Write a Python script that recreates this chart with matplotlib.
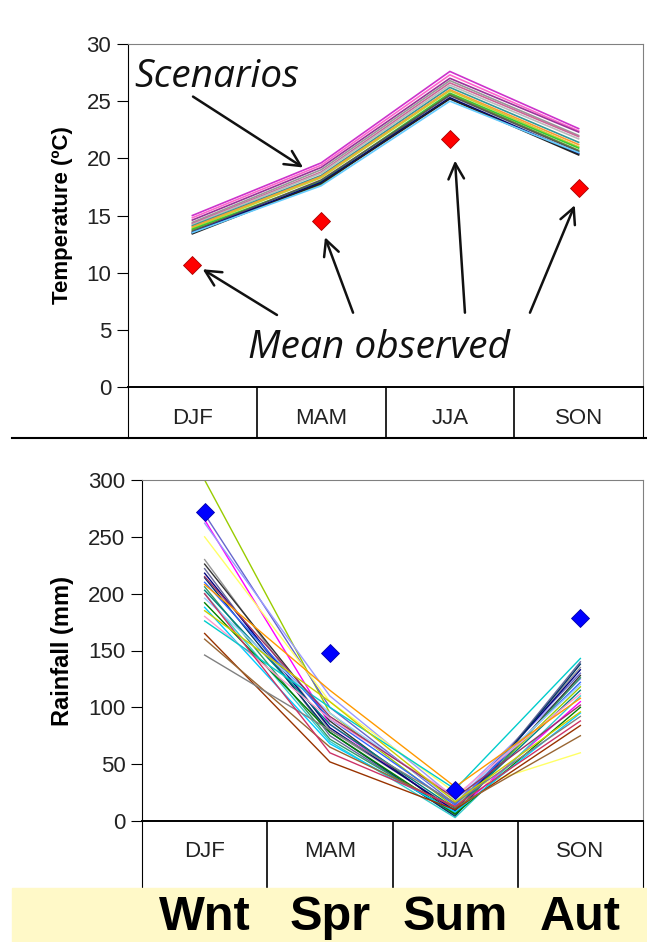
import numpy as np
import matplotlib.pyplot as plt
from matplotlib.lines import Line2D
from matplotlib.patches import Rectangle

plt.switch_backend("Agg")

seasons = ["DJF", "MAM", "JJA", "SON"]
season_words = ["Wnt", "Spr", "Sum", "Aut"]

# temperature scenarios (ºC) per season: DJF, MAM, JJA, SON
temp_scen = [
    [15.0, 19.6, 27.6, 22.6],
    [14.8, 19.4, 27.3, 22.4],
    [14.6, 19.2, 27.0, 22.3],
    [14.4, 19.0, 26.8, 22.0],
    [14.3, 18.8, 26.6, 21.9],
    [14.2, 18.7, 26.4, 21.7],
    [14.1, 18.5, 26.2, 21.4],
    [14.0, 18.4, 26.0, 21.2],
    [13.9, 18.3, 25.9, 21.0],
    [13.8, 18.0, 25.7, 20.9],
    [13.7, 17.7, 25.6, 20.7],
    [13.6, 18.1, 25.5, 20.6],
    [13.5, 17.9, 25.3, 20.4],
    [13.4, 17.8, 25.2, 20.3],
    [13.5, 17.6, 25.0, 20.5],
]
temp_colors = ["#CC33CC", "#FF66CC", "#993399", "#999999", "#CC6699",
               "#BBBBBB", "#339999", "#FF9933", "#CCCC33", "#33CC33",
               "#669933", "#555555", "#000080", "#222222", "#66CCFF"]
temp_obs = [10.7, 14.5, 21.7, 17.4]

# rainfall scenarios (mm)
rain_scen = [
    [300, 95, 12, 118],
    [270, 100, 15, 130],
    [265, 85, 8, 105],
    [262, 110, 20, 125],
    [250, 105, 25, 60],
    [230, 80, 10, 135],
    [226, 88, 6, 128],
    [222, 75, 5, 140],
    [218, 82, 9, 133],
    [214, 78, 4, 138],
    [210, 90, 14, 122],
    [206, 72, 7, 126],
    [203, 85, 11, 115],
    [200, 70, 3, 110],
    [196, 95, 18, 120],
    [192, 78, 6, 100],
    [188, 68, 8, 95],
    [180, 90, 22, 112],
    [176, 100, 28, 143],
    [165, 52, 10, 84],
    [160, 65, 12, 75],
    [146, 80, 16, 92],
    [215, 92, 20, 102],
    [208, 115, 30, 108],
    [200, 60, 13, 88],
    [185, 105, 17, 96],
]
rain_colors = ["#99CC00", "#6666CC", "#FF00FF", "#9999FF", "#FFFF66",
               "#969696", "#333333", "#666699", "#000080", "#003366",
               "#3366FF", "#339966", "#008080", "#33CCCC", "#99CCFF",
               "#008000", "#00CCFF", "#FF99CC", "#00CCCC", "#993300",
               "#996633", "#808080", "#993366", "#FF9900", "#CC3366",
               "#CCCC00"]
rain_obs = [272, 148, 27, 179]

# annotation arrows (tail -> head) in data units of the top chart
scen_arrow = [(0.505, 25.4), (1.36, 19.2)]
obs_arrows = [
    [(1.157, 6.3), (0.58, 10.3)],
    [(1.748, 6.5), (1.53, 13.1)],
    [(2.617, 6.5), (2.54, 19.8)],
    [(3.122, 6.5), (3.47, 15.9)],
]

W, H = 647, 942
fig = plt.figure(figsize=(W / 100, H / 100), dpi=100)
plt.rcParams["font.family"] = ["Liberation Sans", "DejaVu Sans"]

x = np.arange(4) + 0.5


def make_axes(left, top, right, y0, cat_bottom):
    cax = fig.add_axes([left / W, 1 - cat_bottom / H, (right - left) / W,
                        (cat_bottom - y0) / H])
    ax = fig.add_axes([left / W, 1 - y0 / H, (right - left) / W, (y0 - top) / H])
    ax.set_xlim(0, 4)
    ax.set_xticks([])
    for s in ["top", "right"]:
        ax.spines[s].set_color("#808080")
    ax.spines["left"].set_color("black")
    ax.spines["bottom"].set_color("black")
    ax.spines["bottom"].set_linewidth(1.4)
    ax.tick_params(axis="y", direction="out", length=8, labelsize=16,
                   labelcolor="#222222", pad=4)
    cax.patch.set_visible(False)
    cax.set_xlim(0, 4)
    cax.set_ylim(0, 1)
    cax.set_xticks([])
    cax.set_yticks([])
    cax.spines["top"].set_visible(False)
    cax.spines["bottom"].set_visible(False)
    for i in range(1, 4):
        cax.axvline(i, color="black", lw=1.2)
    return ax, cax


# ---- top: temperature ----
ax1, cax1 = make_axes(128, 44, 643, 387, 438)
for vals, c in zip(temp_scen, temp_colors):
    ax1.plot(x, vals, color=c, lw=1.2)
ax1.plot(x, temp_obs, "D", color="#FF0000", ms=9, mec="#AA0000", mew=0.6,
         zorder=5)
ax1.set_ylim(0, 30)
ax1.set_yticks(range(0, 31, 5))
ax1.set_ylabel("Temperature (ºC)", fontsize=16, fontweight="bold", labelpad=10)
for i, s in enumerate(seasons):
    cax1.text(i + 0.5, 0.38, s, ha="center", va="center", fontsize=16,
              color="#222222")

ax1.text(0.05, 26.2, "Scenarios", family="Open Sans", style="italic",
         fontsize=28, color="#111111", va="baseline", ha="left")
ax1.text(0.93, 2.5, "Mean observed", family="Open Sans", style="italic",
         fontsize=28, color="#111111", va="baseline", ha="left")
arr = dict(arrowstyle="->", lw=1.8, color="#111111", mutation_scale=28,
           shrinkA=0, shrinkB=0)
ax1.annotate("", xy=scen_arrow[1], xytext=scen_arrow[0], arrowprops=arr)
for tail, head in obs_arrows:
    ax1.annotate("", xy=head, xytext=tail, arrowprops=arr)

fig.add_artist(Line2D([12 / W, 1], [1 - 438 / H, 1 - 438 / H], color="black",
                      lw=1.5))

# ---- bottom: rainfall ----
ax2, cax2 = make_axes(142, 480, 643, 821, 888)
for vals, c in zip(rain_scen, rain_colors):
    ax2.plot(x, vals, color=c, lw=1.0)
ax2.plot(x, rain_obs, "D", color="#0000FF", ms=9, mec="#0000AA", mew=0.6,
         zorder=5)
ax2.set_ylim(0, 300)
ax2.set_yticks(range(0, 301, 50))
ax2.set_ylabel("Rainfall (mm)", fontsize=17, fontweight="bold", labelpad=10)
for i, s in enumerate(seasons):
    cax2.text(i + 0.5, 0.55, s, ha="center", va="center", fontsize=16,
              color="#222222")

# ---- yellow season banner ----
fig.add_artist(Rectangle((12 / W, 0), 1 - 12 / W, 54 / H,
                         transform=fig.transFigure, color="#FFF9C8", zorder=3))
for i, w in enumerate(season_words):
    xf = (142 + (i + 0.5) * (643 - 142) / 4) / W
    fig.text(xf, 1 - 930 / H, w, ha="center", va="baseline", fontsize=35,
             fontweight="bold", color="black", zorder=4)

plt.savefig("out.png", dpi=100)
